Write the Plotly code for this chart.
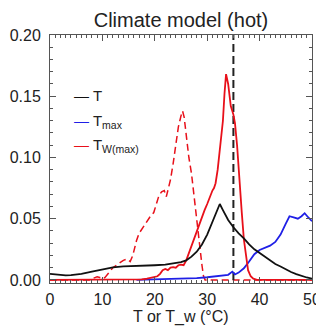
import plotly.graph_objects as go

# ---- data ----
t_x = [0, 1, 2, 3, 4, 5, 6, 8, 10, 12, 14, 16, 18, 20, 22, 24, 25, 26, 27, 28, 29, 30, 31, 32, 32.4,
       33, 34, 35, 36, 37, 38, 39, 40, 41, 42, 43, 44, 45, 46, 47, 48, 49, 50]
t_y = [0.005, 0.0045, 0.004, 0.0038, 0.004, 0.0045, 0.005, 0.0068, 0.0088, 0.0103, 0.011, 0.0112,
       0.0115, 0.012, 0.0125, 0.0135, 0.0145, 0.016, 0.019, 0.023, 0.029, 0.037, 0.047, 0.058, 0.062,
       0.057, 0.049, 0.043, 0.038, 0.034, 0.029, 0.025, 0.022, 0.019, 0.016, 0.013, 0.011, 0.0085,
       0.0065, 0.0048, 0.0032, 0.002, 0.001]

tmax_x = [16.5, 20, 25, 28, 30, 32, 33, 34, 34.8, 35.3, 36, 37, 38, 39, 40, 41, 42, 43, 44, 45,
          45.7, 46.5, 47.3, 48, 48.6, 49.3, 50]
tmax_y = [0, 0.0003, 0.0008, 0.0015, 0.0022, 0.003, 0.0035, 0.0042, 0.0068, 0.0045, 0.006, 0.0095,
          0.015, 0.021, 0.0245, 0.026, 0.028, 0.031, 0.037, 0.046, 0.052, 0.051, 0.050, 0.052,
          0.0545, 0.051, 0.048]

tw_x = [0, 16.5, 17.5, 18.5, 19.5, 20.5, 21, 21.5, 22, 22.5, 23, 23.5, 24, 24.5, 25, 25.5, 26, 26.5,
        27, 27.5, 28, 28.5, 29, 29.5, 30, 30.5, 31, 31.3, 31.6, 32, 32.5, 33, 33.3, 33.6, 34, 34.5,
        35, 35.3, 35.7, 36, 36.3, 36.6, 37, 37.4, 37.8, 38.3, 38.8, 39.5, 50]
tw_y = [0, 0, 0.0005, 0.001, 0.002, 0.003, 0.005, 0.008, 0.009, 0.008, 0.010, 0.0105, 0.010, 0.012,
        0.0125, 0.012, 0.016, 0.022, 0.028, 0.034, 0.040, 0.046, 0.052, 0.057, 0.062, 0.068, 0.073,
        0.075, 0.079, 0.090, 0.108, 0.13, 0.152, 0.168, 0.16, 0.142, 0.135, 0.128, 0.11, 0.09, 0.075,
        0.055, 0.033, 0.018, 0.008, 0.003, 0.001, 0, 0]

twd_x = [0, 7.5, 8, 8.5, 9, 9.5, 10, 10.5, 11, 11.5, 12, 13, 14, 14.7, 15.3, 15.8, 16.5, 17, 18, 19,
         19.8, 20.3, 20.8, 21.3, 21.8, 22.2, 22.6, 23, 23.5, 24, 24.5, 25, 25.3, 25.6, 26, 26.5, 27,
         27.5, 28, 28.5, 29, 29.3, 29.6, 50]
twd_y = [0, 0, 0.001, 0.002, 0.0025, 0.002, 0.001, 0.002, 0.005, 0.008, 0.01, 0.013, 0.016, 0.017,
         0.015, 0.02, 0.032, 0.038, 0.045, 0.051, 0.055, 0.062, 0.069, 0.072, 0.073, 0.068, 0.074,
         0.082, 0.095, 0.112, 0.125, 0.134, 0.138, 0.133, 0.118, 0.1, 0.087, 0.068, 0.045, 0.03,
         0.012, 0.003, 0, 0]

vline_x = 35
vline_y = [0, 0.2]

y_ticks = [0.0, 0.05, 0.10, 0.15, 0.20]
x_ticks = [0, 10, 20, 30, 40, 50]

RED = "#e8101a"
BLUE = "#1f1fe6"

fig = go.Figure()
fig.add_trace(go.Scatter(x=twd_x, y=twd_y, mode="lines",
                         line=dict(color=RED, width=1.5, dash="7px,4px"), showlegend=False))
fig.add_trace(go.Scatter(x=[vline_x, vline_x], y=vline_y, mode="lines",
                         line=dict(color="#222222", width=2, dash="8px,4px"), showlegend=False))
fig.add_trace(go.Scatter(x=tmax_x, y=tmax_y, mode="lines",
                         line=dict(color=BLUE, width=1.8), showlegend=False))
fig.add_trace(go.Scatter(x=tw_x, y=tw_y, mode="lines",
                         line=dict(color=RED, width=1.8), showlegend=False))
fig.add_trace(go.Scatter(x=t_x, y=t_y, mode="lines",
                         line=dict(color="#111111", width=1.8), showlegend=False))

FONT = "Liberation Sans, Arial, sans-serif"

axis_common = dict(showgrid=False, zeroline=False, showline=True, linecolor="#555555",
                   linewidth=1, mirror="allticks", ticks="inside", tickcolor="#555555",
                   automargin=False,
                   tickfont=dict(family=FONT, size=16, color="#222222"))

fig.update_xaxes(range=[0, 50], tickvals=x_ticks, ticklen=6,
                 minor=dict(dtick=1, ticks="inside", ticklen=3, tickcolor="#555555"),
                 ticklabelstandoff=2,
                 **axis_common)
fig.update_yaxes(range=[-0.0025, 0.2], tickvals=y_ticks, tickformat=".2f", ticklen=6,
                 minor=dict(dtick=0.01, ticks="inside", ticklen=3, tickcolor="#555555"),
                 ticklabelstandoff=5,
                 **axis_common)

legend_items = [("#111111", "T", 0.758),
                (BLUE, "T<sub>max</sub>", 0.653),
                (RED, "T<sub>W(max)</sub>", 0.553)]
for col, label, yy in legend_items:
    fig.add_annotation(xref="paper", yref="paper", x=0.085, y=yy, xanchor="left", yanchor="middle",
                       showarrow=False,
                       text=f"<span style='color:{col}'>—</span> {label}",
                       font=dict(family=FONT, size=15, color="#222222"))

# x-axis title
fig.add_annotation(xref="paper", yref="paper", x=0.5, y=-0.137, xanchor="center", yanchor="middle",
                   showarrow=False, text="T or T_w (°C)",
                   font=dict(family=FONT, size=16, color="#222222"))

# the page body adds an 8px offset, so the figure is sized to fit the window
fig.update_layout(
    width=316, height=319,
    margin=dict(l=42, r=12, t=27, b=44),
    paper_bgcolor="white", plot_bgcolor="white",
    title=dict(text="Climate model (hot)", x=0.5, xref="paper", y=0.962, yref="container",
               xanchor="center", yanchor="middle",
               font=dict(family=FONT, size=20, color="#222222")),
    showlegend=False,
)

fig.write_html("out.html")
